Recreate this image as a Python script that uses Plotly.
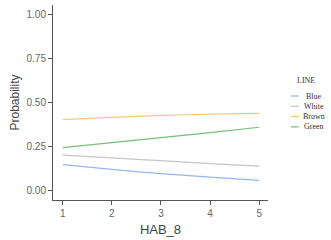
import plotly.graph_objects as go

# HAB_8 values on the x axis
hab_8 = [1, 2, 3, 4, 5]

# predicted probability per LINE
blue = [0.149, 0.122, 0.098, 0.078, 0.060]
white = [0.203, 0.187, 0.171, 0.155, 0.140]
brown = [0.403, 0.416, 0.427, 0.434, 0.439]
green = [0.245, 0.273, 0.301, 0.330, 0.360]

series = [("Blue", blue, "#95B6EE"),
          ("White", white, "#C6C6C6"),
          ("Brown", brown, "#F4C97C"),
          ("Green", green, "#78BF7E")]

# plot area in pixels: x 53..268, y 5..200
L, R, T, B = 53, 268, 5, 200


def px_x(p):
    return (p - L) / (R - L)


def px_y(p):
    return (B - p) / (B - T)


fig = go.Figure()
for name, vals, col in series:
    fig.add_trace(go.Scatter(x=hab_8, y=vals, name=name, mode="lines",
                             line=dict(color=col, width=1.2, shape="spline", smoothing=0.6)))

axis_style = dict(showgrid=False, zeroline=False, showline=True, linecolor="#555555",
                  linewidth=1, ticks="outside", ticklen=4, tickcolor="#555555", automargin=False,
                  tickfont=dict(family="Liberation Sans, Arial", size=10, color="#666666"))

fig.update_xaxes(range=[0.8, 5.18], tickvals=hab_8, title_text="HAB_8",
                 title_font=dict(family="Liberation Sans, Arial", size=13, color="#444444"),
                 title_standoff=6, **axis_style)
fig.update_yaxes(range=[-0.051, 1.051], tickvals=[0, 0.25, 0.5, 0.75, 1.0],
                 ticktext=["0.00", "0.25", "0.50", "0.75", "1.00"], title_text="Probability",
                 title_font=dict(family="Liberation Sans, Arial", size=12, color="#444444"),
                 title_standoff=4, **axis_style)

# hand-drawn legend (ggplot style, tight spacing)
leg_font = dict(family="Liberation Serif", size=8, color="#333333")
fig.add_annotation(x=px_x(306), y=px_y(80), xref="paper", yref="paper", text="LINE",
                   showarrow=False, font=leg_font, xanchor="center", yanchor="middle")
for i, (name, vals, col) in enumerate(series):
    yy = px_y(96 + 10.3 * i)
    fig.add_shape(type="line", xref="paper", yref="paper", x0=px_x(291), x1=px_x(299),
                  y0=yy, y1=yy, line=dict(color=col, width=1.2))
    fig.add_annotation(x=px_x(313.5), y=yy, xref="paper", yref="paper", text=name,
                       showarrow=False, font=leg_font, xanchor="center", yanchor="middle")

fig.update_layout(
    width=331, height=240,
    margin=dict(l=L, r=331 - R, t=T, b=240 - B, pad=0),
    plot_bgcolor="white", paper_bgcolor="white",
    showlegend=False,
)

# drop the default 8px body margin so the figure sits at the window corner
fig.write_html("out.html", config={"displayModeBar": False},
               post_script="document.body.style.margin='0';")
